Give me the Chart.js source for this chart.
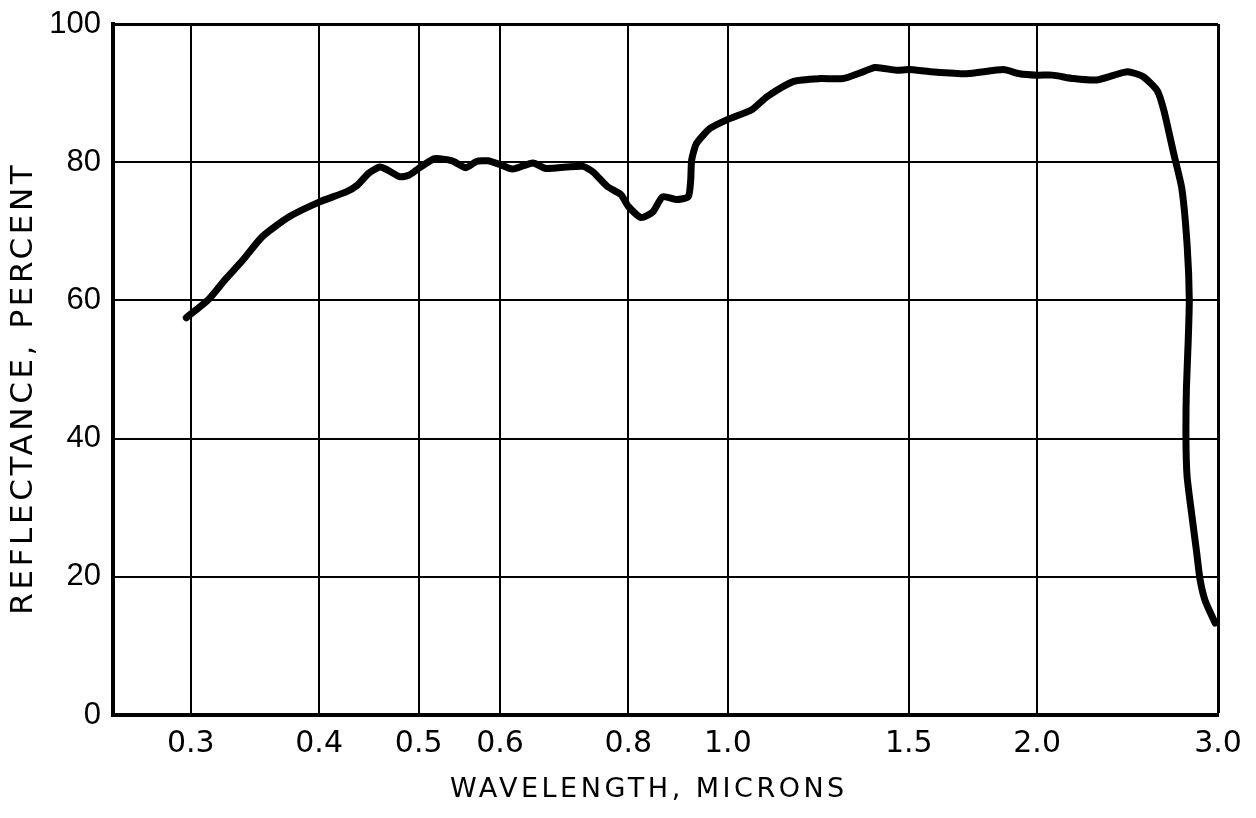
<!DOCTYPE html>
<html>
<head>
<meta charset="utf-8">
<script src="https://cdn.jsdelivr.net/npm/chart.js@4.4.1/dist/chart.umd.min.js"></script>
<style>
  body { margin: 0; background: #fff; }
  #wrap { width: 1256px; height: 818px; }
</style>
</head>
<body>
<div id="wrap"><canvas id="reflectance-chart" width="1256" height="818"></canvas></div>
<script>
// wavelength in microns
const wavelengths = [
  0.297, 0.312, 0.324, 0.337, 0.352, 0.374, 0.401, 0.425, 0.436, 0.447,
  0.458, 0.466, 0.479, 0.489, 0.500, 0.518, 0.539, 0.556, 0.569, 0.584,
  0.599, 0.617, 0.646, 0.665, 0.696, 0.723, 0.739, 0.763, 0.787, 0.800,
  0.823, 0.845, 0.864, 0.891, 0.915, 0.920, 0.922, 0.932, 0.961, 1.000,
  1.055, 1.092, 1.159, 1.229, 1.295, 1.344, 1.391, 1.460, 1.500, 1.574,
  1.707, 1.854, 1.923, 2.000, 2.070, 2.170, 2.286, 2.377, 2.450, 2.535,
  2.617, 2.656, 2.716, 2.767, 2.800, 2.813, 2.806, 2.795, 2.792, 2.799,
  2.828, 2.860, 2.881, 2.914, 2.981
];
// reflectance, percent
const reflectance = [
  57.5, 60.1, 63.0, 65.8, 69.2, 72.1, 74.3, 75.7, 76.7, 78.4,
  79.3, 78.9, 77.9, 78.1, 79.1, 80.5, 80.2, 79.2, 80.1, 80.2,
  79.7, 79.0, 79.9, 79.1, 79.3, 79.4, 78.6, 76.5, 75.3, 73.6,
  72.0, 72.8, 75.0, 74.6, 75.0, 77.4, 80.3, 82.7, 84.9, 86.2,
  87.6, 89.5, 91.7, 92.1, 92.1, 92.9, 93.7, 93.3, 93.4, 93.1,
  92.8, 93.4, 92.8, 92.6, 92.6, 92.1, 91.9, 92.6, 93.1, 92.4,
  90.4, 87.6, 81.3, 76.1, 67.8, 60.1, 54.0, 47.3, 40.1, 34.6,
  29.1, 23.5, 19.7, 16.6, 13.3
];

const xTicks = [0.3, 0.4, 0.5, 0.6, 0.8, 1.0, 1.5, 2.0, 3.0];
const yTicks = [0, 20, 40, 60, 80, 100];
const xTitle = 'WAVELENGTH, MICRONS';
const yTitle = 'REFLECTANCE, PERCENT';

const points = wavelengths.map((w, i) => ({ x: w, y: reflectance[i] }));

// axis titles drawn by hand so they can sit off-centre like the original
const axisTitles = {
  id: 'axisTitles',
  afterDraw(chart) {
    const { ctx, chartArea } = chart;
    ctx.save();
    ctx.fillStyle = '#000';
    ctx.textAlign = 'center';
    ctx.textBaseline = 'middle';

    ctx.font = '27px "DejaVu Sans", sans-serif';
    ctx.letterSpacing = '3.5px';
    ctx.fillText(xTitle, chartArea.left + chartArea.width * 0.485, chartArea.bottom + 75);

    ctx.translate(chartArea.left - 89, chartArea.top + chartArea.height * 0.527);
    ctx.rotate(-Math.PI / 2);
    ctx.font = '31px "DejaVu Sans", sans-serif';
    ctx.letterSpacing = '3.6px';
    ctx.fillText(yTitle, 0, 0);
    ctx.restore();
  },
};

const ctx = document.getElementById('reflectance-chart').getContext('2d');
new Chart(ctx, {
  type: 'line',
  data: {
    datasets: [
      {
        data: points,
        borderColor: '#000',
        borderWidth: 7,
        borderCapStyle: 'round',
        borderJoinStyle: 'round',
        pointRadius: 0,
        tension: 0.2,
        fill: false,
      },
    ],
  },
  options: {
    responsive: false,
    animation: false,
    layout: { padding: { top: 24, right: 38, left: 0, bottom: 0 } },
    plugins: {
      legend: { display: false },
      tooltip: { enabled: false },
    },
    scales: {
      x: {
        type: 'logarithmic',
        min: 0.252,
        max: 3.0,
        afterBuildTicks: (scale) => {
          scale.ticks = xTicks.map((v) => ({ value: v }));
        },
        afterFit: (scale) => {
          scale.height = 103;
        },
        ticks: {
          autoSkip: false,
          maxRotation: 0,
          padding: 11,
          color: '#000',
          font: { family: '"DejaVu Sans", sans-serif', size: 30 },
          callback: (v) => Number(v).toFixed(1),
        },
        grid: {
          color: '#000',
          lineWidth: (c) => (c.tick && c.tick.value === 3.0 ? 3 : 2),
          drawTicks: false,
        },
        border: { display: true, color: '#000', width: 4 },
      },
      y: {
        type: 'linear',
        min: 0,
        max: 100,
        afterBuildTicks: (scale) => {
          scale.ticks = yTicks.map((v) => ({ value: v }));
        },
        afterFit: (scale) => {
          scale.width = 113;
          // let the layout padding alone decide where the plot starts
          scale.paddingTop = 0;
          scale.paddingBottom = 0;
        },
        ticks: {
          padding: 12,
          color: '#000',
          font: { family: '"Liberation Sans", sans-serif', size: 31 },
        },
        grid: {
          color: '#000',
          lineWidth: (c) => (c.tick && c.tick.value === 100 ? 3 : 2),
          drawTicks: false,
        },
        border: { display: true, color: '#000', width: 4 },
      },
    },
  },
  plugins: [axisTitles],
});
</script>
</body>
</html>
